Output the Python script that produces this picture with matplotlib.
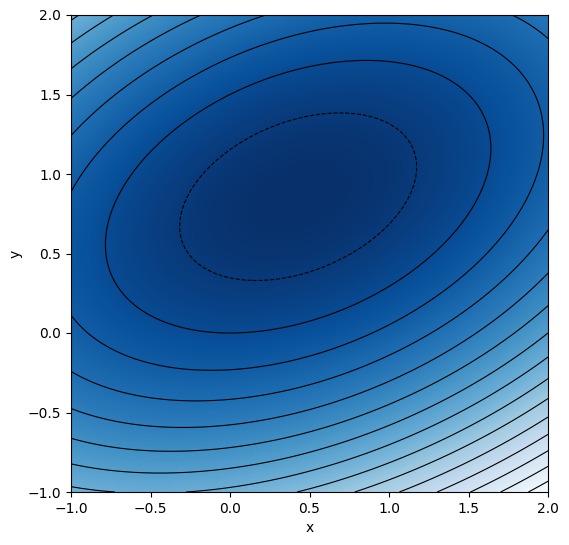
import numpy as np
import matplotlib
matplotlib.use("Agg")
import matplotlib.pyplot as plt

# f(x, y) = a*x^2 + b*x*y + c*y^2 + d*x + e*y
coef_xx = 1.0
coef_xy = -1.0
coef_yy = 2.0
coef_x = 0.0
coef_y = -3.0

x_range = [-1.0, 2.0]
y_range = [-1.0, 2.0]
levels = [-0.8, 0.0, 0.8, 1.6, 2.4, 3.2, 4.0, 4.8, 5.6, 6.4, 7.2, 8.0, 8.8, 9.6, 10.4]
ticks = [-1.0, -0.5, 0.0, 0.5, 1.0, 1.5, 2.0]

x = np.linspace(x_range[0], x_range[1], 400)
y = np.linspace(y_range[0], y_range[1], 400)
X, Y = np.meshgrid(x, y)
Z = coef_xx * X**2 + coef_xy * X * Y + coef_yy * Y**2 + coef_x * X + coef_y * Y

fig = plt.figure(figsize=(5.69, 5.45), dpi=100)
ax = fig.add_axes([71 / 569, 53 / 545, 477 / 569, 477 / 545])
ax.imshow(Z, extent=[x_range[0], x_range[1], y_range[0], y_range[1]],
          origin="lower", cmap="Blues_r", aspect="equal")
ax.contour(X, Y, Z, levels=levels, colors="k", linewidths=0.8)
ax.set_xticks(ticks)
ax.set_yticks(ticks)
ax.set_xlabel("x")
ax.set_ylabel("y")
fig.savefig("out.png", dpi=100)
